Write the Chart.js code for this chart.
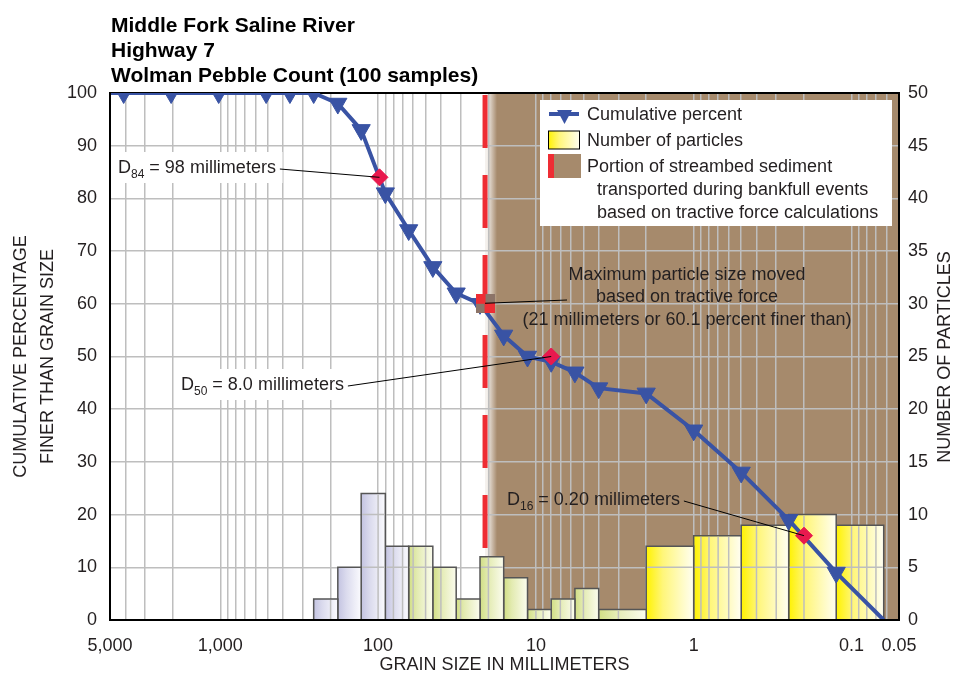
<!DOCTYPE html>
<html>
<head>
<meta charset="utf-8">
<title>Middle Fork Saline River - Wolman Pebble Count</title>
<script src="https://cdn.jsdelivr.net/npm/chart.js"></script>
<style>
  html, body { margin: 0; padding: 0; background: #fff; }
  #wrap { width: 963px; height: 681px; }
</style>
</head>
<body>
<div id="wrap"><canvas id="pebbleChart" width="963" height="681"></canvas></div>
<script>
// --- datos ---

// curva acumulada: tamano de grano (mm) -> porcentaje mas fino
const cumSizes   = [5000, 4096, 2048, 1024, 512, 362, 256, 180, 128, 90, 64, 45, 32, 22.6, 16, 11.3, 8, 5.66, 4, 2, 1, 0.5, 0.25, 0.125, 0.0625];
const cumPercent = [100, 100, 100, 100, 100, 100, 100, 98, 93, 81, 74, 67, 62, 60, 54, 50, 49, 47, 44, 43, 36, 28, 19, 9, 0];

// histograma: limite superior / inferior de cada clase (mm) y numero de particulas
const binUpper = [256, 180, 128, 90, 64, 45, 32, 22.6, 16, 11.3, 8, 5.66, 4, 2, 1, 0.5, 0.25, 0.125];
const binLower = [180, 128, 90, 64, 45, 32, 22.6, 16, 11.3, 8, 5.66, 4, 2, 1, 0.5, 0.25, 0.125, 0.0625];
const binCount = [2, 5, 12, 7, 7, 5, 2, 6, 4, 1, 2, 3, 1, 7, 8, 9, 10, 9];

// valores D
const dNames   = ['84', '50', '16'];
const dSizes   = [98, 8.0, 0.20];
const dText    = ['98', '8.0', '0.20'];
const dPercent = [84, 50, 16];

// tamano maximo movido por fuerza tractiva
const maxMovedSize = 21;
const maxMovedPercent = 60.1;

// etiquetas del eje x
const xTickValues = [5000, 1000, 100, 10, 1, 0.1, 0.05];
const xTickLabels = ['5,000', '1,000', '100', '10', '1', '0.1', '0.05'];

// --- estilos ---
const GRID = '#BEBEBE';
const BLUE = '#3953A4';
const RED = '#EE2D34';
const PINK = '#E8194E';
const BROWN = '#A68A6C';
const INK = '#231F20';
const FAMILY = "'Liberation Sans', Arial, Helvetica, sans-serif";

Chart.defaults.font.family = FAMILY;
Chart.defaults.color = INK;

// lineas de la grilla log (1..9 x 10^k)
const gridValues = [];
for (let k = -2; k <= 3; k++) {
    for (let n = 1; n <= 9; n++) {
        const v = parseFloat((n * Math.pow(10, k)).toPrecision(6));
        if (v >= 0.05 && v <= 5000) gridValues.push(v);
    }
}

function binColors(upper) {
    if (upper > 64) return ['#C3C3E1', '#DADAED', '#FBFBFE'];   // cantos
    if (upper > 2) return ['#D1DE84', '#E3EBB2', '#FBFCEE'];    // grava
    return ['#FFF200', '#FFF67A', '#FFFEF2'];                   // arena
}

function barFill(chart, i) {
    const xs = chart.scales.x;
    const cols = binColors(binUpper[i]);
    if (!chart.chartArea || !xs) return cols[1];
    const xa = xs.getPixelForValue(binUpper[i]);
    const xb = xs.getPixelForValue(binLower[i]);
    const g = chart.ctx.createLinearGradient(xa, 0, xb, 0);
    g.addColorStop(0, cols[0]);
    g.addColorStop(0.35, cols[1]);
    g.addColorStop(1, cols[2]);
    return g;
}

// marcador cuadrado rojo / gris
function checkerMarker() {
    const c = document.createElement('canvas');
    c.width = 19; c.height = 19;
    const g = c.getContext('2d');
    g.fillStyle = '#8C7468';
    g.fillRect(0, 0, 19, 19);
    g.fillStyle = RED;
    g.fillRect(0, 0, 10, 10);
    g.fillRect(9, 9, 10, 10);
    return c;
}

const barSets = binCount.map((n, i) => ({
    label: 'bin' + i,
    yAxisID: 'y2',
    data: [
        {x: binUpper[i], y: 0}, {x: binUpper[i], y: n},
        {x: binLower[i], y: n}, {x: binLower[i], y: 0}
    ],
    borderColor: '#555555',
    borderWidth: 1.5,
    pointRadius: 0,
    fill: 'origin',
    backgroundColor: ctx => barFill(ctx.chart, i),
    order: 5
}));

const datasets = [
    {
        label: 'D values',
        yAxisID: 'y',
        data: dSizes.map((s, i) => ({x: s, y: dPercent[i]})),
        showLine: false,
        pointStyle: 'rectRot',
        pointRadius: 8.5,
        pointBackgroundColor: PINK,
        pointBorderColor: PINK,
        pointBorderWidth: 1,
        order: 0
    },
    {
        label: 'Max moved',
        yAxisID: 'y',
        data: [{x: maxMovedSize, y: maxMovedPercent}],
        showLine: false,
        pointStyle: checkerMarker(),
        pointRadius: 10,
        order: 0
    },
    {
        label: 'Cumulative percent',
        yAxisID: 'y',
        data: cumSizes.map((s, i) => ({x: s, y: cumPercent[i]})),
        borderColor: BLUE,
        backgroundColor: BLUE,
        borderWidth: 4,
        borderJoinStyle: 'round',
        tension: 0,
        pointStyle: 'triangle',
        pointRotation: 180,
        pointRadius: ctx => (ctx.dataIndex === 0 || ctx.dataIndex === cumSizes.length - 1) ? 0 : 10.5,
        pointBackgroundColor: BLUE,
        pointBorderColor: BLUE,
        pointBorderWidth: 1,
        order: 1
    },
    {
        label: 'limit',
        yAxisID: 'y',
        data: [{x: maxMovedSize, y: 100}, {x: maxMovedSize, y: 0}],
        borderColor: RED,
        borderWidth: 5,
        borderDash: [53, 27],
        borderDashOffset: -2,
        pointRadius: 0,
        order: 10
    }
].concat(barSets);

// grilla redibujada encima de las barras (en la figura se ve a traves)
function drawGridOverBars(chart) {
    const {ctx, chartArea, scales} = chart;
    const xs = scales.x, ys = scales.y, y2 = scales.y2;
    ctx.save();
    ctx.beginPath();
    binCount.forEach((n, i) => {
        const xa = xs.getPixelForValue(binUpper[i]);
        const xb = xs.getPixelForValue(binLower[i]);
        const yt = y2.getPixelForValue(n);
        const yb = y2.getPixelForValue(0);
        ctx.rect(xa + 1, yt + 1, xb - xa - 2, yb - yt - 1);
    });
    ctx.clip();
    ctx.strokeStyle = GRID;
    ctx.lineWidth = 1.5;
    ctx.beginPath();
    xs.ticks.forEach(t => {
        const px = xs.getPixelForValue(t.value);
        ctx.moveTo(px, chartArea.top);
        ctx.lineTo(px, chartArea.bottom);
    });
    ys.ticks.forEach(t => {
        const py = ys.getPixelForValue(t.value);
        ctx.moveTo(chartArea.left, py);
        ctx.lineTo(chartArea.right, py);
    });
    ctx.stroke();
    ctx.restore();
}

function drawDLabel(ctx, x, y, sub, rest) {
    ctx.font = '18px ' + FAMILY;
    ctx.fillText('D', x, y);
    let w = ctx.measureText('D').width;
    ctx.font = '12px ' + FAMILY;
    ctx.fillText(sub, x + w, y + 5);
    w += ctx.measureText(sub).width;
    ctx.font = '18px ' + FAMILY;
    ctx.fillText(rest, x + w, y);
    return x + w + ctx.measureText(rest).width;
}

function leader(ctx, x0, y0, x1, y1) {
    ctx.strokeStyle = '#000';
    ctx.lineWidth = 1;
    ctx.beginPath();
    ctx.moveTo(x0, y0);
    ctx.lineTo(x1, y1);
    ctx.stroke();
}

const decorPlugin = {
    id: 'decor',
    beforeDraw(chart) {
        const {ctx, chartArea, scales} = chart;
        ctx.save();
        ctx.fillStyle = '#fff';
        ctx.fillRect(0, 0, chart.width, chart.height);
        // zona transportada (marron) a la derecha del limite
        const x0 = scales.x.getPixelForValue(maxMovedSize);
        const g = ctx.createLinearGradient(x0 + 2, 0, x0 + 12, 0);
        g.addColorStop(0, 'rgba(166,138,108,0.12)');
        g.addColorStop(1, BROWN);
        ctx.fillStyle = g;
        ctx.fillRect(x0, chartArea.top, chartArea.right - x0, chartArea.bottom - chartArea.top);
        ctx.restore();
    },
    beforeDatasetsDraw(chart) {
        const {ctx, chartArea} = chart;
        ctx.save();
        ctx.strokeStyle = '#000';
        ctx.lineWidth = 2;
        ctx.beginPath();
        ctx.moveTo(chartArea.left, chartArea.top);
        ctx.lineTo(chartArea.right, chartArea.top);
        ctx.stroke();
        ctx.restore();
    },
    beforeDatasetDraw(chart, args) {
        if (chart.data.datasets[args.index].label === 'Cumulative percent') drawGridOverBars(chart);
    },
    afterDraw(chart) {
        const {ctx, scales} = chart;
        const xs = scales.x, ys = scales.y;
        ctx.save();

        // titulo
        ctx.fillStyle = '#000';
        ctx.textAlign = 'left';
        ctx.textBaseline = 'alphabetic';
        ctx.font = 'bold 21px ' + FAMILY;
        ctx.fillText('Middle Fork Saline River', 111, 32);
        ctx.fillText('Highway 7', 111, 57);
        ctx.fillText('Wolman Pebble Count (100 samples)', 111, 82);

        // titulo eje derecho (se lee de abajo hacia arriba)
        ctx.save();
        ctx.fillStyle = INK;
        ctx.font = '18px ' + FAMILY;
        ctx.translate(945, 357);
        ctx.rotate(-Math.PI / 2);
        ctx.textAlign = 'center';
        ctx.textBaseline = 'middle';
        ctx.fillText('NUMBER OF PARTICLES', 0, 0);
        ctx.restore();

        // anotaciones D
        ctx.fillStyle = INK;
        ctx.textBaseline = 'alphabetic';
        const dPos = [[118, 173, true], [181, 390, true], [507, 505, false]];
        dNames.forEach((name, i) => {
            const [tx, ty, box] = dPos[i];
            ctx.font = '18px ' + FAMILY;
            const rest = ' = ' + dText[i] + ' millimeters';
            if (box) {
                const w = ctx.measureText('D' + rest).width + 16;
                ctx.fillStyle = '#fff';
                ctx.fillRect(tx - 5, ty - 21, w + 9, 31);
                ctx.fillStyle = INK;
            }
            const end = drawDLabel(ctx, tx, ty, name, rest);
            leader(ctx, end + 4, ty - 4, xs.getPixelForValue(dSizes[i]), ys.getPixelForValue(dPercent[i]));
        });

        // anotacion tamano maximo
        ctx.font = '18px ' + FAMILY;
        ctx.textAlign = 'center';
        ctx.textBaseline = 'middle';
        ctx.fillStyle = INK;
        ctx.fillText('Maximum particle size moved', 687, 275);
        ctx.fillText('based on tractive force', 687, 297);
        ctx.fillText('(' + maxMovedSize + ' millimeters or ' + maxMovedPercent + ' percent finer than)', 687, 320);
        leader(ctx, 567, 300, xs.getPixelForValue(maxMovedSize), ys.getPixelForValue(maxMovedPercent));

        // leyenda
        ctx.fillStyle = '#fff';
        ctx.fillRect(540, 100, 352, 126);
        ctx.strokeStyle = BLUE;
        ctx.lineWidth = 4;
        ctx.beginPath();
        ctx.moveTo(549, 114);
        ctx.lineTo(579, 114);
        ctx.stroke();
        ctx.fillStyle = BLUE;
        ctx.beginPath();
        ctx.moveTo(557, 110);
        ctx.lineTo(572, 110);
        ctx.lineTo(564.5, 124);
        ctx.closePath();
        ctx.fill();

        const yg = ctx.createLinearGradient(548, 0, 580, 0);
        yg.addColorStop(0, '#FFF200');
        yg.addColorStop(0.35, '#FFF67A');
        yg.addColorStop(1, '#FFFEF2');
        ctx.fillStyle = yg;
        ctx.fillRect(548.5, 131, 31, 18);
        ctx.strokeStyle = '#000';
        ctx.lineWidth = 1;
        ctx.strokeRect(548.5, 131, 31, 18);

        ctx.fillStyle = BROWN;
        ctx.fillRect(548, 154, 33, 24);
        ctx.fillStyle = RED;
        ctx.fillRect(548, 154, 6, 24);

        ctx.fillStyle = INK;
        ctx.textAlign = 'left';
        ctx.textBaseline = 'middle';
        ctx.font = '18px ' + FAMILY;
        ctx.fillText('Cumulative percent', 587, 115);
        ctx.fillText('Number of particles', 587, 141);
        ctx.fillText('Portion of streambed sediment', 587, 167);
        ctx.fillText('transported during bankfull events', 597, 190);
        ctx.fillText('based on tractive force calculations', 597, 213);

        ctx.restore();
    }
};

const chart = new Chart(document.getElementById('pebbleChart'), {
    type: 'line',
    data: {datasets: datasets},
    options: {
        responsive: false,
        animation: false,
        devicePixelRatio: 1,
        layout: {padding: {top: 93, left: 0, right: 0, bottom: 0}},
        plugins: {
            legend: {display: false},
            tooltip: {enabled: false}
        },
        scales: {
            x: {
                type: 'logarithmic',
                reverse: true,
                min: 0.05,
                max: 5000,
                afterBuildTicks: axis => { axis.ticks = gridValues.map(v => ({value: v})); },
                afterFit: s => { s.height = 61; },
                grid: {color: GRID, lineWidth: 1.5, drawTicks: false},
                border: {color: '#000', width: 2, z: 1},
                ticks: {
                    autoSkip: false,
                    maxRotation: 0,
                    minRotation: 0,
                    padding: 15,
                    color: INK,
                    font: {size: 18},
                    callback: function (value) {
                        const i = xTickValues.findIndex(t => Math.abs(t - value) / t < 1e-6);
                        return i >= 0 ? xTickLabels[i] : '';
                    }
                },
                title: {
                    display: true,
                    text: 'GRAIN SIZE IN MILLIMETERS',
                    color: INK,
                    font: {size: 18},
                    padding: {top: 0, bottom: 5}
                }
            },
            y: {
                type: 'linear',
                position: 'left',
                min: 0,
                max: 100,
                afterFit: s => { s.width = 110; },
                grid: {color: GRID, lineWidth: 1.5, drawTicks: false},
                border: {color: '#000', width: 2, z: 1},
                ticks: {stepSize: 10, padding: 13, color: INK, font: {size: 18}},
                title: {
                    display: true,
                    text: ['CUMULATIVE PERCENTAGE', 'FINER THAN GRAIN SIZE'],
                    color: INK,
                    font: {size: 18, lineHeight: 1.52},
                    padding: {top: 7, bottom: 0}
                }
            },
            y2: {
                type: 'linear',
                position: 'right',
                min: 0,
                max: 50,
                afterFit: s => { s.width = 64; },
                grid: {display: false, drawTicks: false},
                border: {color: '#000', width: 2, z: 1},
                ticks: {stepSize: 5, padding: 9, color: INK, font: {size: 18}}
            }
        }
    },
    plugins: [decorPlugin]
});

console.log('grafico listo', chart.chartArea);
</script>
</body>
</html>
